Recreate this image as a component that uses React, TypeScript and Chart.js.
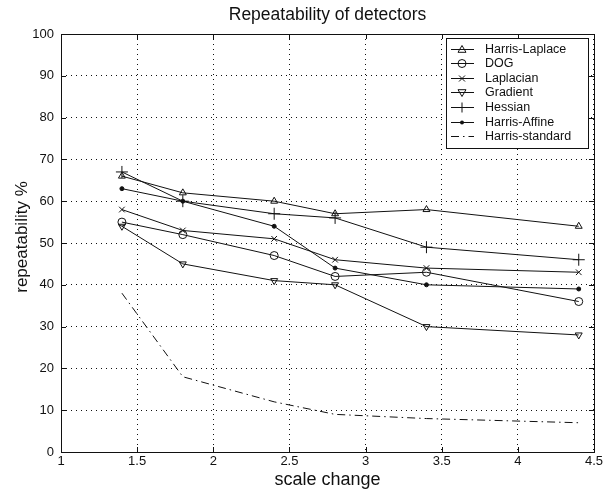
import React, { useEffect, useRef } from "react";
import { Chart, registerables } from "chart.js";

Chart.register(...registerables);

const scaleChanges = [1.4, 1.8, 2.4, 2.8, 3.4, 4.4];
const harrisLaplace = [66, 62, 60, 57, 58, 54];
const dog = [55, 52, 47, 42, 43, 36];
const laplacian = [58, 53, 51, 46, 44, 43];
const gradient = [54, 45, 41, 40, 30, 28];
const hessian = [67, 60, 57, 56, 49, 46];
const harrisAffine = [63, 60, 54, 44, 40, 39];
const harrisStandard = [38, 18, 12, 9, 8, 7];

const seriesNames = [
  "Harris-Laplace",
  "DOG",
  "Laplacian",
  "Gradient",
  "Hessian",
  "Harris-Affine",
  "Harris-standard",
];
const chartTitle = "Repeatability of detectors";
const xTitle = "scale change";
const yTitle = "repeatability %";
const FONT = "'Liberation Sans', Arial, Helvetica, sans-serif";
const INK = "#111";

type Marker = "tri" | "circ" | "xcross" | "dtri" | "plus" | "dot" | "none";
const markers: Marker[] = ["tri", "circ", "xcross", "dtri", "plus", "dot", "none"];

function drawMarker(ctx: CanvasRenderingContext2D, m: Marker, x: number, y: number) {
  ctx.save();
  ctx.strokeStyle = INK;
  ctx.fillStyle = INK;
  ctx.lineWidth = 1;
  ctx.beginPath();
  const r = 4;
  if (m === "tri") {
    ctx.moveTo(x, y - r);
    ctx.lineTo(x + r, y + r * 0.7);
    ctx.lineTo(x - r, y + r * 0.7);
    ctx.closePath();
    ctx.stroke();
  } else if (m === "dtri") {
    ctx.moveTo(x, y + r);
    ctx.lineTo(x + r, y - r * 0.7);
    ctx.lineTo(x - r, y - r * 0.7);
    ctx.closePath();
    ctx.stroke();
  } else if (m === "circ") {
    ctx.arc(x, y, r, 0, Math.PI * 2);
    ctx.stroke();
  } else if (m === "xcross") {
    ctx.moveTo(x - 3, y - 3);
    ctx.lineTo(x + 3, y + 3);
    ctx.moveTo(x + 3, y - 3);
    ctx.lineTo(x - 3, y + 3);
    ctx.stroke();
  } else if (m === "plus") {
    ctx.moveTo(x - 5, y);
    ctx.lineTo(x + 5, y);
    ctx.moveTo(x, y - 5);
    ctx.lineTo(x, y + 5);
    ctx.stroke();
  } else if (m === "dot") {
    ctx.arc(x, y, 2, 0, Math.PI * 2);
    ctx.fill();
  }
  ctx.restore();
}

const framePlugin = {
  id: "frame",
  afterDraw(chart: any) {
    const { ctx, chartArea } = chart;
    const { left, right, top, bottom } = chartArea;
    ctx.save();
    // title
    ctx.fillStyle = INK;
    ctx.font = `17.5px ${FONT}`;
    ctx.textAlign = "center";
    ctx.textBaseline = "middle";
    ctx.fillText(chartTitle, (left + right) / 2, 15);

    // y axis title
    ctx.save();
    ctx.translate(22, 237);
    ctx.rotate(-Math.PI / 2);
    ctx.font = `17px ${FONT}`;
    ctx.fillText(yTitle, 0, 0);
    ctx.restore();

    // frame
    ctx.strokeStyle = INK;
    ctx.lineWidth = 1;
    ctx.setLineDash([]);
    ctx.strokeRect(Math.round(left) + 0.5, Math.round(top) + 0.5, Math.round(right - left), Math.round(bottom - top));

    // inward ticks
    const xs = chart.scales.x;
    const ys = chart.scales.y;
    ctx.beginPath();
    xs.ticks.forEach((t: any) => {
      const px = Math.round(xs.getPixelForValue(t.value)) + 0.5;
      ctx.moveTo(px, bottom);
      ctx.lineTo(px, bottom - 5);
      ctx.moveTo(px, top);
      ctx.lineTo(px, top + 5);
    });
    ys.ticks.forEach((t: any) => {
      const py = Math.round(ys.getPixelForValue(t.value)) + 0.5;
      ctx.moveTo(left, py);
      ctx.lineTo(left + 5, py);
      ctx.moveTo(right, py);
      ctx.lineTo(right - 5, py);
    });
    ctx.stroke();

    // legend
    const lx = 446, ly = 38, lw = 142, lh = 110;
    ctx.fillStyle = "#fff";
    ctx.fillRect(lx, ly, lw, lh);
    ctx.strokeRect(lx + 0.5, ly + 0.5, lw, lh);
    ctx.font = `12.5px ${FONT}`;
    ctx.textAlign = "left";
    ctx.textBaseline = "middle";
    seriesNames.forEach((name, i) => {
      const y = Math.round(ly + 10.5 + i * 14.6) + 0.5;
      ctx.beginPath();
      if (markers[i] === "none") {
        ctx.setLineDash([8, 4, 1.5, 4]);
      } else {
        ctx.setLineDash([]);
      }
      ctx.moveTo(451, y);
      ctx.lineTo(474, y);
      ctx.stroke();
      ctx.setLineDash([]);
      drawMarker(ctx, markers[i], 462, y);
      ctx.fillStyle = INK;
      ctx.fillText(name, 485, y);
    });
    ctx.restore();
  },
};

function makeDataset(label: string, values: number[], m: Marker) {
  const base: any = {
    label,
    data: scaleChanges.map((x, i) => ({ x, y: values[i] })),
    borderColor: INK,
    borderWidth: 1,
    pointBorderColor: INK,
    pointBorderWidth: 1,
    pointBackgroundColor: "rgba(0,0,0,0)",
    pointRadius: 4,
    tension: 0,
    fill: false,
  };
  if (m === "tri") base.pointStyle = "triangle";
  if (m === "dtri") {
    base.pointStyle = "triangle";
    base.pointRotation = 180;
  }
  if (m === "circ") base.pointStyle = "circle";
  if (m === "xcross") {
    base.pointStyle = "crossRot";
    base.pointRadius = 4;
  }
  if (m === "plus") {
    base.pointStyle = "cross";
    base.pointRadius = 6;
  }
  if (m === "dot") {
    base.pointStyle = "circle";
    base.pointRadius = 2;
    base.pointBackgroundColor = INK;
  }
  if (m === "none") {
    base.pointRadius = 0;
    base.borderDash = [8, 4, 1.5, 4];
  }
  return base;
}

export default function App() {
  const ref = useRef<HTMLCanvasElement>(null);
  useEffect(() => {
    document.body.style.margin = "0";
    const values = [harrisLaplace, dog, laplacian, gradient, hessian, harrisAffine, harrisStandard];
    const chart = new Chart(ref.current!, {
      type: "line",
      data: {
        datasets: seriesNames.map((n, i) => makeDataset(n, values[i], markers[i])),
      },
      options: {
        animation: false,
        responsive: false,
        maintainAspectRatio: false,
        layout: { padding: { top: 34, right: 8, left: 0, bottom: 0 } },
        plugins: { legend: { display: false }, title: { display: false }, tooltip: { enabled: false } },
        scales: {
          x: {
            type: "linear",
            min: 1,
            max: 4.5,
            ticks: {
              stepSize: 0.5,
              color: INK,
              font: { family: FONT, size: 13 },
              padding: 2,
              maxRotation: 0,
              callback: (v: any) => String(v),
            },
            grid: { color: INK, lineWidth: 1, drawTicks: false },
            border: { display: false, dash: [1, 4] },
            title: { display: true, text: xTitle, color: INK, font: { family: FONT, size: 18 }, padding: { top: -2, bottom: 0 } },
            afterFit: (s: any) => {
              s.height = 39;
            },
          },
          y: {
            type: "linear",
            min: 0,
            max: 100,
            ticks: {
              stepSize: 10,
              color: INK,
              font: { family: FONT, size: 13 },
              padding: 7,
            },
            grid: { color: INK, lineWidth: 1, drawTicks: false },
            border: { display: false, dash: [1, 4] },
            title: { display: false },
            afterFit: (s: any) => {
              s.width = 61;
            },
          },
        },
      },
      plugins: [framePlugin],
    } as any);
    return () => chart.destroy();
  }, []);
  return (
    <div style={{ width: 605, height: 491, background: "#fff" }}>
      <canvas ref={ref} width={605} height={491} style={{ display: "block" }} />
    </div>
  );
}
